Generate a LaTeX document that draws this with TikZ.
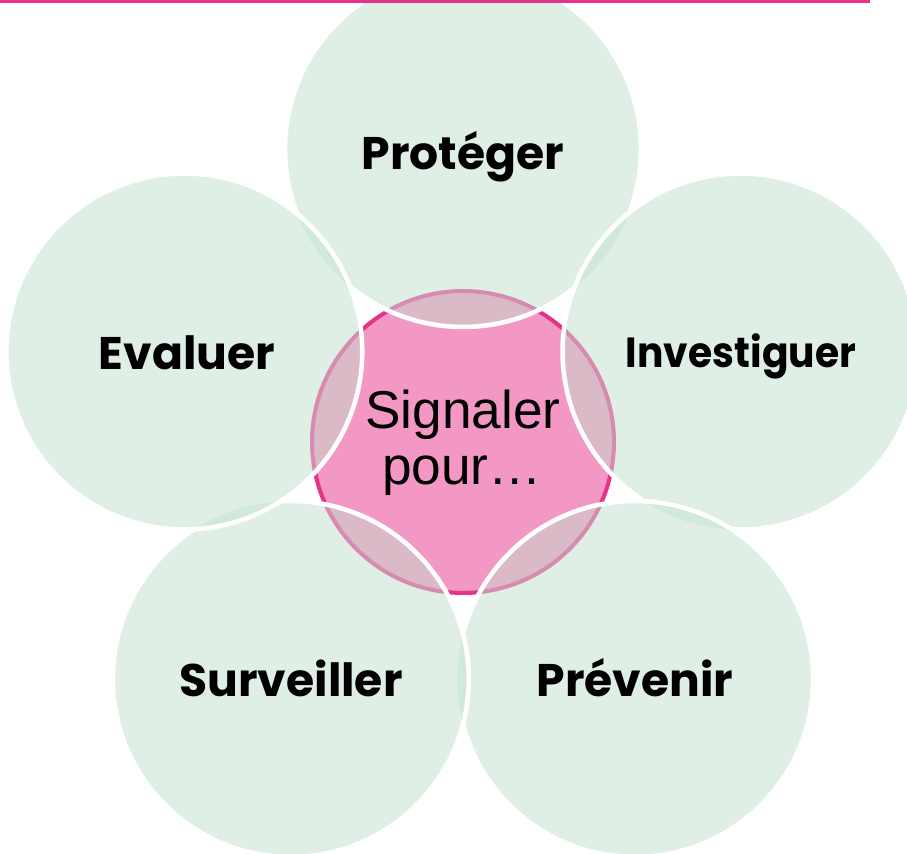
\documentclass[tikz,border=0pt]{standalone}
\usepackage{fontspec}
\setmainfont{Liberation Sans}
\newfontfamily\popfont{Poppins}
\usetikzlibrary{calc}
\definecolor{lgreen}{HTML}{DFEFE5}
\definecolor{dgreen}{HTML}{D2E8DA}
\definecolor{cpink}{HTML}{F398C5}
\definecolor{cmauve}{HTML}{DBBAC8}
\definecolor{cmauveb}{HTML}{D88BB0}
\definecolor{cmagenta}{HTML}{E6338A}
\def\R{3.56cm}
\def\r{3.02cm}
\newcommand{\petal}[2]{%
  \fill[lgreen] (#1) circle[radius=\R];
  \begin{scope}
    \clip (#1) circle[radius=\R];
    \fill[cmauve] (C) circle[radius=\r];
    \draw[cmauveb, line width=2.3pt] (C) circle[radius=\r];
    \foreach \q in {#2} {\fill[dgreen] (\q) circle[radius=\R];}
  \end{scope}
  \draw[white, line width=2.6pt] (#1) circle[radius=\R];
}
\begin{document}
\begin{tikzpicture}[x=0.02cm,y=-0.02cm,
  lbl/.style={font=\popfont\bfseries\fontsize{26}{30}\selectfont, text=black, anchor=base, inner sep=0pt},
  lblsmall/.style={lbl, font=\popfont\bfseries\fontsize{24}{28}\selectfont, xscale=0.93},
  ctext/.style={font=\fontsize{30.3}{33}\selectfont, text=black, anchor=base, inner sep=0pt}]
\useasboundingbox (0,0) rectangle (907,854);
\fill[white] (0,0) rectangle (907,854);
\coordinate (C) at (463,442);
\coordinate (P) at (463,149);
\coordinate (I) at (740.5,351.5);
\coordinate (V) at (635.2,679);
\coordinate (S) at (290.8,679);
\coordinate (E) at (184.3,351.5);
% centre circle
\fill[cpink] (C) circle[radius=\r];
\draw[cmagenta, line width=2.3pt] (C) circle[radius=\r];
% petals in drawing order
\petal{P}{}
\petal{I}{P}
\petal{V}{I}
\petal{S}{V}
\petal{E}{S,P}
% top rule
\fill[cmagenta] (0,0) rectangle (870,3.3);
% labels
\node[lbl] (tP) at (463,170) {Protéger};
\node[lbl] (tE) at (187,370) {Evaluer};
\node[lblsmall] (tI) at (741,368) {Investiguer};
\node[lbl] (tS) at (291,697) {Surveiller};
\node[lbl] (tV) at (635,697) {Prévenir};
\node[ctext] (tC1) at (463,429) {Signaler};
\node[ctext] (tC2) at (462,485) {pour…};
\end{tikzpicture}
\end{document}
